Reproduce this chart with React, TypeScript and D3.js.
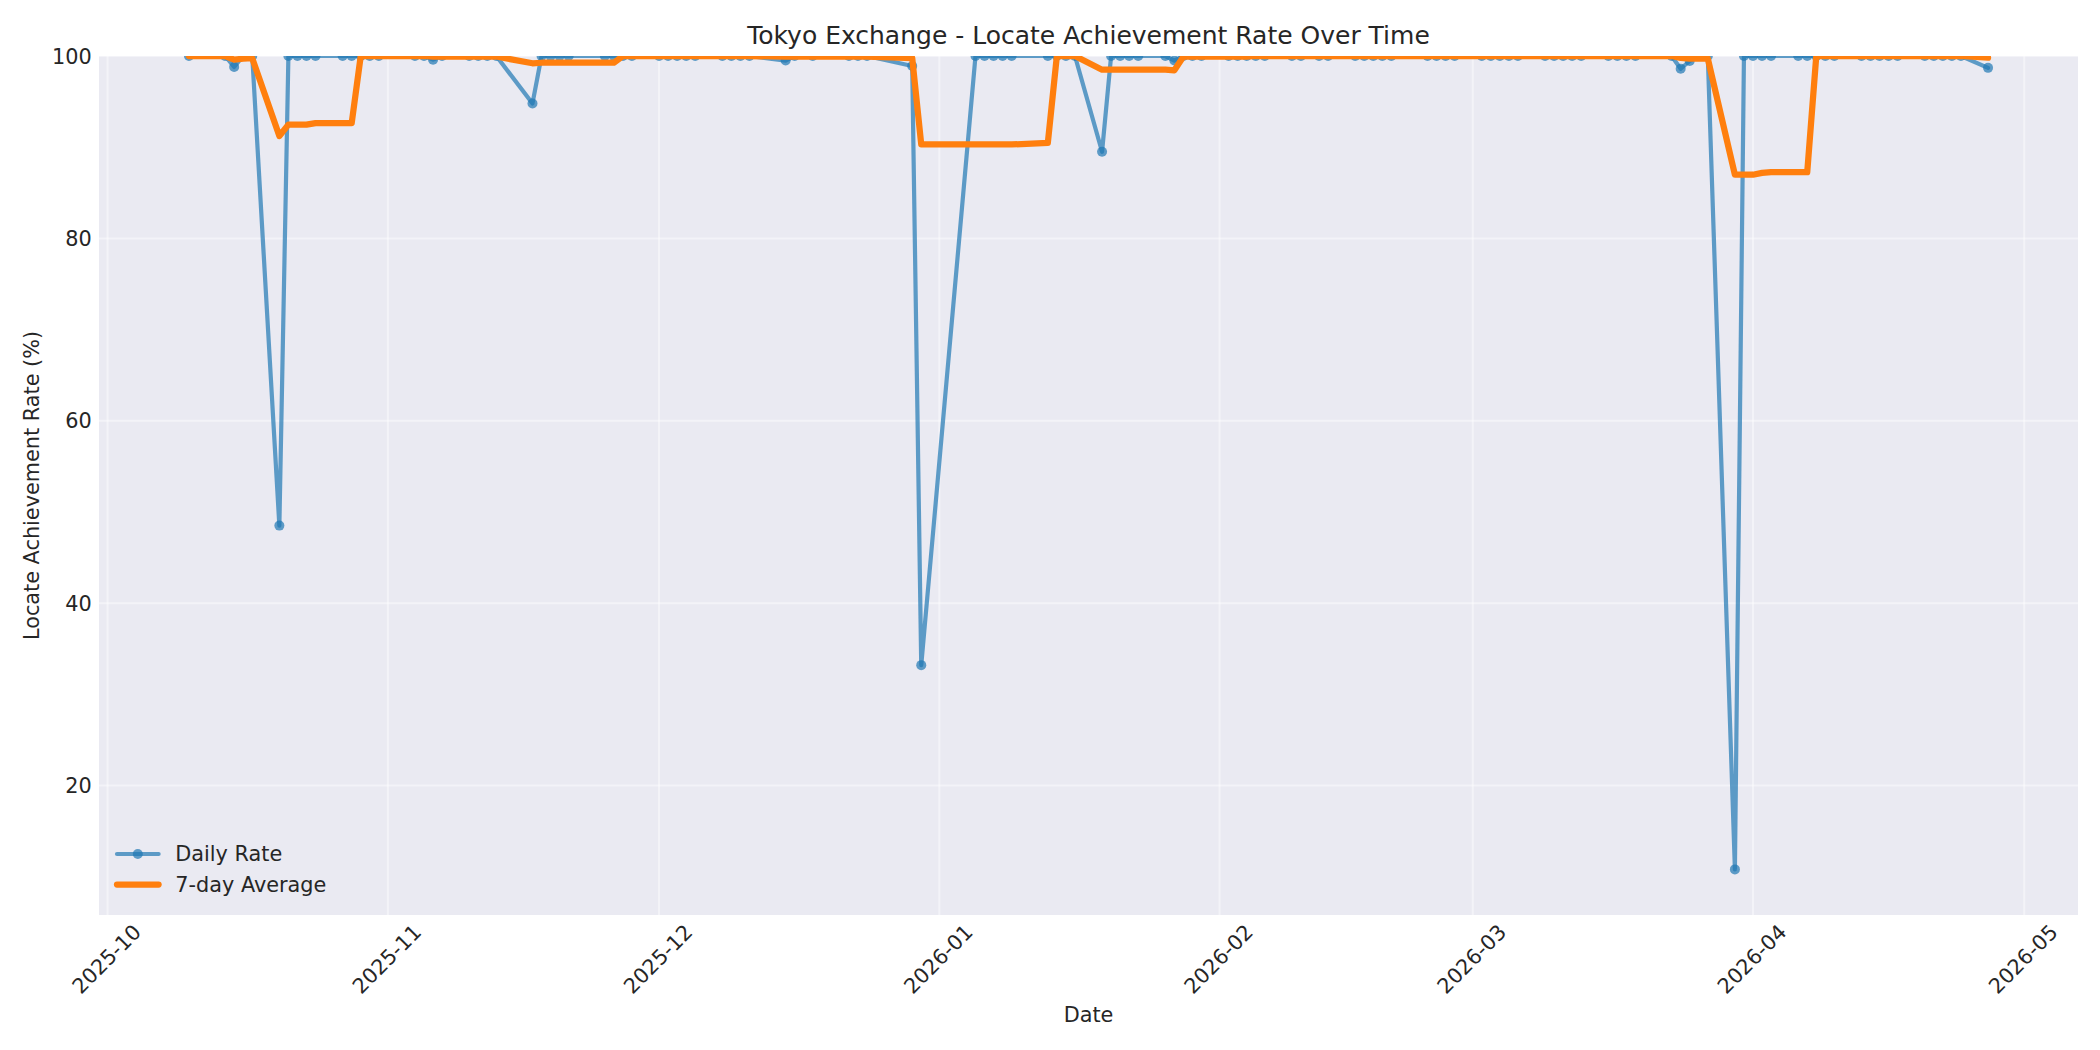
import React from "react";
import * as d3 from "d3";

// ---- Data ----
const dates: string[] = [
  "2025-10-10", "2025-10-14", "2025-10-15", "2025-10-16", "2025-10-17", "2025-10-20", "2025-10-21", "2025-10-22", "2025-10-23", "2025-10-24", "2025-10-27", "2025-10-28", "2025-10-29", "2025-10-30", "2025-10-31",
  "2025-11-04", "2025-11-05", "2025-11-06", "2025-11-07", "2025-11-10", "2025-11-11", "2025-11-12", "2025-11-13", "2025-11-17", "2025-11-18", "2025-11-19", "2025-11-20", "2025-11-21", "2025-11-25", "2025-11-26", "2025-11-27", "2025-11-28",
  "2025-12-01", "2025-12-02", "2025-12-03", "2025-12-04", "2025-12-05", "2025-12-08", "2025-12-09", "2025-12-10", "2025-12-11", "2025-12-15", "2025-12-16", "2025-12-18", "2025-12-22", "2025-12-23", "2025-12-24", "2025-12-29", "2025-12-30",
  "2026-01-05", "2026-01-06", "2026-01-07", "2026-01-08", "2026-01-09", "2026-01-13", "2026-01-14", "2026-01-15", "2026-01-16", "2026-01-19", "2026-01-20", "2026-01-21", "2026-01-22", "2026-01-23", "2026-01-26", "2026-01-27", "2026-01-28", "2026-01-29", "2026-01-30",
  "2026-02-02", "2026-02-03", "2026-02-04", "2026-02-05", "2026-02-06", "2026-02-09", "2026-02-10", "2026-02-12", "2026-02-13", "2026-02-16", "2026-02-17", "2026-02-18", "2026-02-19", "2026-02-20", "2026-02-24", "2026-02-25", "2026-02-26", "2026-02-27",
  "2026-03-02", "2026-03-03", "2026-03-04", "2026-03-05", "2026-03-06", "2026-03-09", "2026-03-10", "2026-03-11", "2026-03-12", "2026-03-13", "2026-03-16", "2026-03-17", "2026-03-18", "2026-03-19", "2026-03-23", "2026-03-24", "2026-03-25", "2026-03-26", "2026-03-27", "2026-03-30", "2026-03-31",
  "2026-04-01", "2026-04-02", "2026-04-03", "2026-04-06", "2026-04-07", "2026-04-08", "2026-04-09", "2026-04-10", "2026-04-13", "2026-04-14", "2026-04-15", "2026-04-16", "2026-04-17", "2026-04-20", "2026-04-21", "2026-04-22", "2026-04-23", "2026-04-24", "2026-04-27",
];

const dailyRate: number[] = [
  100, 100, 98.8, 100, 100, 48.5, 100, 100, 100, 100, 100, 100, 100, 100, 100,
  100, 100, 99.6, 100, 100, 100, 100, 100, 94.8, 100, 100, 100, 100, 100, 100, 100, 100,
  100, 100, 100, 100, 100, 100, 100, 100, 100, 99.5, 100, 100, 100, 100, 100, 98.9, 33.2,
  100, 100, 100, 100, 100, 100, 100, 100, 100, 89.5, 100, 100, 100, 100, 100, 99.5, 100, 100, 100,
  100, 100, 100, 100, 100, 100, 100, 100, 100, 100, 100, 100, 100, 100, 100, 100, 100, 100,
  100, 100, 100, 100, 100, 100, 100, 100, 100, 100, 100, 100, 100, 100, 100, 98.6, 99.45, 100, 100, 10.8, 100,
  100, 100, 100, 100, 100, 100, 100, 100, 100, 100, 100, 100, 100, 100, 100, 100, 100, 100, 98.7,
];

const sevenDayAvg: number[] = [
  100, 100, 99.6, 99.7, 99.76, 91.22, 92.47, 92.47, 92.47, 92.64, 92.64, 92.64, 100, 100, 100,
  100, 100, 99.94, 99.94, 99.94, 99.94, 99.94, 99.94, 99.2, 99.26, 99.26, 99.26, 99.26, 99.26, 99.26, 100, 100,
  100, 100, 100, 100, 100, 100, 100, 100, 100, 99.93, 99.93, 99.93, 99.93, 99.93, 99.93, 99.77, 90.3,
  90.3, 90.3, 90.3, 90.3, 90.3, 90.46, 100, 100, 100, 98.5, 98.5, 98.5, 98.5, 98.5, 98.5, 98.43, 99.93, 99.93, 99.93,
  99.93, 99.93, 99.93, 100, 100, 100, 100, 100, 100, 100, 100, 100, 100, 100, 100, 100, 100, 100,
  100, 100, 100, 100, 100, 100, 100, 100, 100, 100, 100, 100, 100, 100, 100, 99.8, 99.72, 99.72, 99.72, 86.98, 86.98,
  86.98, 87.18, 87.26, 87.26, 87.26, 100, 100, 100, 100, 100, 100, 100, 100, 100, 100, 100, 100, 100, 99.81,
];

const yTicks: number[] = [20, 40, 60, 80, 100];
const xTickLabels: string[] = ["2025-10", "2025-11", "2025-12", "2026-01", "2026-02", "2026-03", "2026-04", "2026-05"];
const yDomain: [number, number] = [5.8, 100];

const titleText = "Tokyo Exchange - Locate Achievement Rate Over Time";
const xLabelText = "Date";
const yLabelText = "Locate Achievement Rate (%)";
const seriesNames = ["Daily Rate", "7-day Average"];

// ---- Layout / style ----
const W = 2100;
const H = 1050;
const PL = 99;
const PR = 2078;
const PT = 56;
const PB = 915;
const FONT = "'DejaVu Sans', 'Liberation Sans', sans-serif";
const TXT = "#262626";
const FS = 20.8;
const BLUE = "#1f77b4";
const ORANGE = "#ff7f0e";
const MR = 5;

export default function App() {
  const parse = d3.utcParse("%Y-%m-%d");
  const ds = dates.map((d) => parse(d) as Date);
  const t0 = ds[0].getTime();
  const t1 = ds[ds.length - 1].getTime();
  const padT = (t1 - t0) * 0.05;

  const x = d3.scaleUtc().domain([new Date(t0 - padT), new Date(t1 + padT)]).range([PL, PR]);
  const y = d3.scaleLinear().domain(yDomain).range([PB, PT]);

  const parseMonth = d3.utcParse("%Y-%m");
  const xTicks = xTickLabels.map((s) => ({ label: s, date: parseMonth(s) as Date }));

  const lineGen = d3.line<[number, number]>().x((p) => p[0]).y((p) => p[1]);
  const dailyPts: [number, number][] = ds.map((d, i) => [x(d), y(dailyRate[i])]);
  const avgPts: [number, number][] = ds.map((d, i) => [x(d), y(sevenDayAvg[i])]);

  // rotated tick label placement (ha=center, va=top, rotation=45)
  const asc = 0.76 * FS;
  const desc = 0.208 * FS;
  const labelW = 4.18 * FS;
  const tickPad = 7.3;

  const legendX1 = 117;
  const legendX2 = 158.6;
  const legendTextX = 175.3;
  const legendRows = [854, 884.5];

  return (
    <svg
      width={W}
      height={H}
      viewBox={`0 0 ${W} ${H}`}
      style={{ position: "absolute", left: 0, top: 0, background: "#ffffff" }}
      fontFamily={FONT}
    >
      <defs>
        <clipPath id="plotClip">
          <rect x={PL} y={PT} width={PR - PL} height={PB - PT} />
        </clipPath>
      </defs>
      <rect x={0} y={0} width={W} height={H} fill="#ffffff" />
      <rect x={PL} y={PT} width={PR - PL} height={PB - PT} fill="#EAEAF2" />

      {/* grid */}
      <g stroke="#ffffff" strokeOpacity={0.45} strokeWidth={2}>
        {yTicks.map((t) => (
          <line key={"gy" + t} x1={PL} x2={PR} y1={y(t)} y2={y(t)} />
        ))}
        {xTicks.map((t) => (
          <line key={"gx" + t.label} x1={x(t.date)} x2={x(t.date)} y1={PT} y2={PB} />
        ))}
      </g>

      {/* series */}
      <g clipPath="url(#plotClip)">
        <path
          d={lineGen(dailyPts) || ""}
          fill="none"
          stroke={BLUE}
          strokeOpacity={0.7}
          strokeWidth={4.2}
          strokeLinejoin="round"
          strokeLinecap="round"
        />
        {dailyPts.map((p, i) => (
          <circle key={"m" + i} cx={p[0]} cy={p[1]} r={MR} fill={BLUE} fillOpacity={0.7} />
        ))}
        <path
          d={lineGen(avgPts) || ""}
          fill="none"
          stroke={ORANGE}
          strokeWidth={6.25}
          strokeLinejoin="round"
          strokeLinecap="round"
        />
      </g>

      {/* y tick labels */}
      {yTicks.map((t) => (
        <text key={"yt" + t} x={PL - tickPad} y={y(t) + 7.6} textAnchor="end" fontSize={FS} fill={TXT}>
          {t}
        </text>
      ))}

      {/* x tick labels */}
      {xTicks.map((t) => {
        const tx = x(t.date);
        const px = tx + 0.354 * (asc - desc);
        const py = PB + tickPad + 0.707 * (asc + labelW / 2);
        return (
          <text
            key={"xt" + t.label}
            transform={`translate(${px},${py}) rotate(-45)`}
            textAnchor="middle"
            fontSize={FS}
            fill={TXT}
          >
            {t.label}
          </text>
        );
      })}

      {/* axis labels */}
      <text x={(PL + PR) / 2} y={1022} textAnchor="middle" fontSize={FS} fill={TXT}>
        {xLabelText}
      </text>
      <text
        transform={`translate(39,${(PT + PB) / 2}) rotate(-90)`}
        textAnchor="middle"
        fontSize={FS}
        fill={TXT}
      >
        {yLabelText}
      </text>

      {/* title */}
      <text x={(PL + PR) / 2} y={43.5} textAnchor="middle" fontSize={25} fill={TXT}>
        {titleText}
      </text>

      {/* legend */}
      <g>
        <line
          x1={legendX1}
          x2={legendX2}
          y1={legendRows[0]}
          y2={legendRows[0]}
          stroke={BLUE}
          strokeOpacity={0.7}
          strokeWidth={4.2}
          strokeLinecap="round"
        />
        <circle cx={(legendX1 + legendX2) / 2} cy={legendRows[0]} r={MR} fill={BLUE} fillOpacity={0.7} />
        <text x={legendTextX} y={legendRows[0] + 7.4} fontSize={FS} fill={TXT}>
          {seriesNames[0]}
        </text>
        <line
          x1={legendX1}
          x2={legendX2}
          y1={legendRows[1]}
          y2={legendRows[1]}
          stroke={ORANGE}
          strokeWidth={6.25}
          strokeLinecap="round"
        />
        <text x={legendTextX} y={legendRows[1] + 7.4} fontSize={FS} fill={TXT}>
          {seriesNames[1]}
        </text>
      </g>
    </svg>
  );
}
